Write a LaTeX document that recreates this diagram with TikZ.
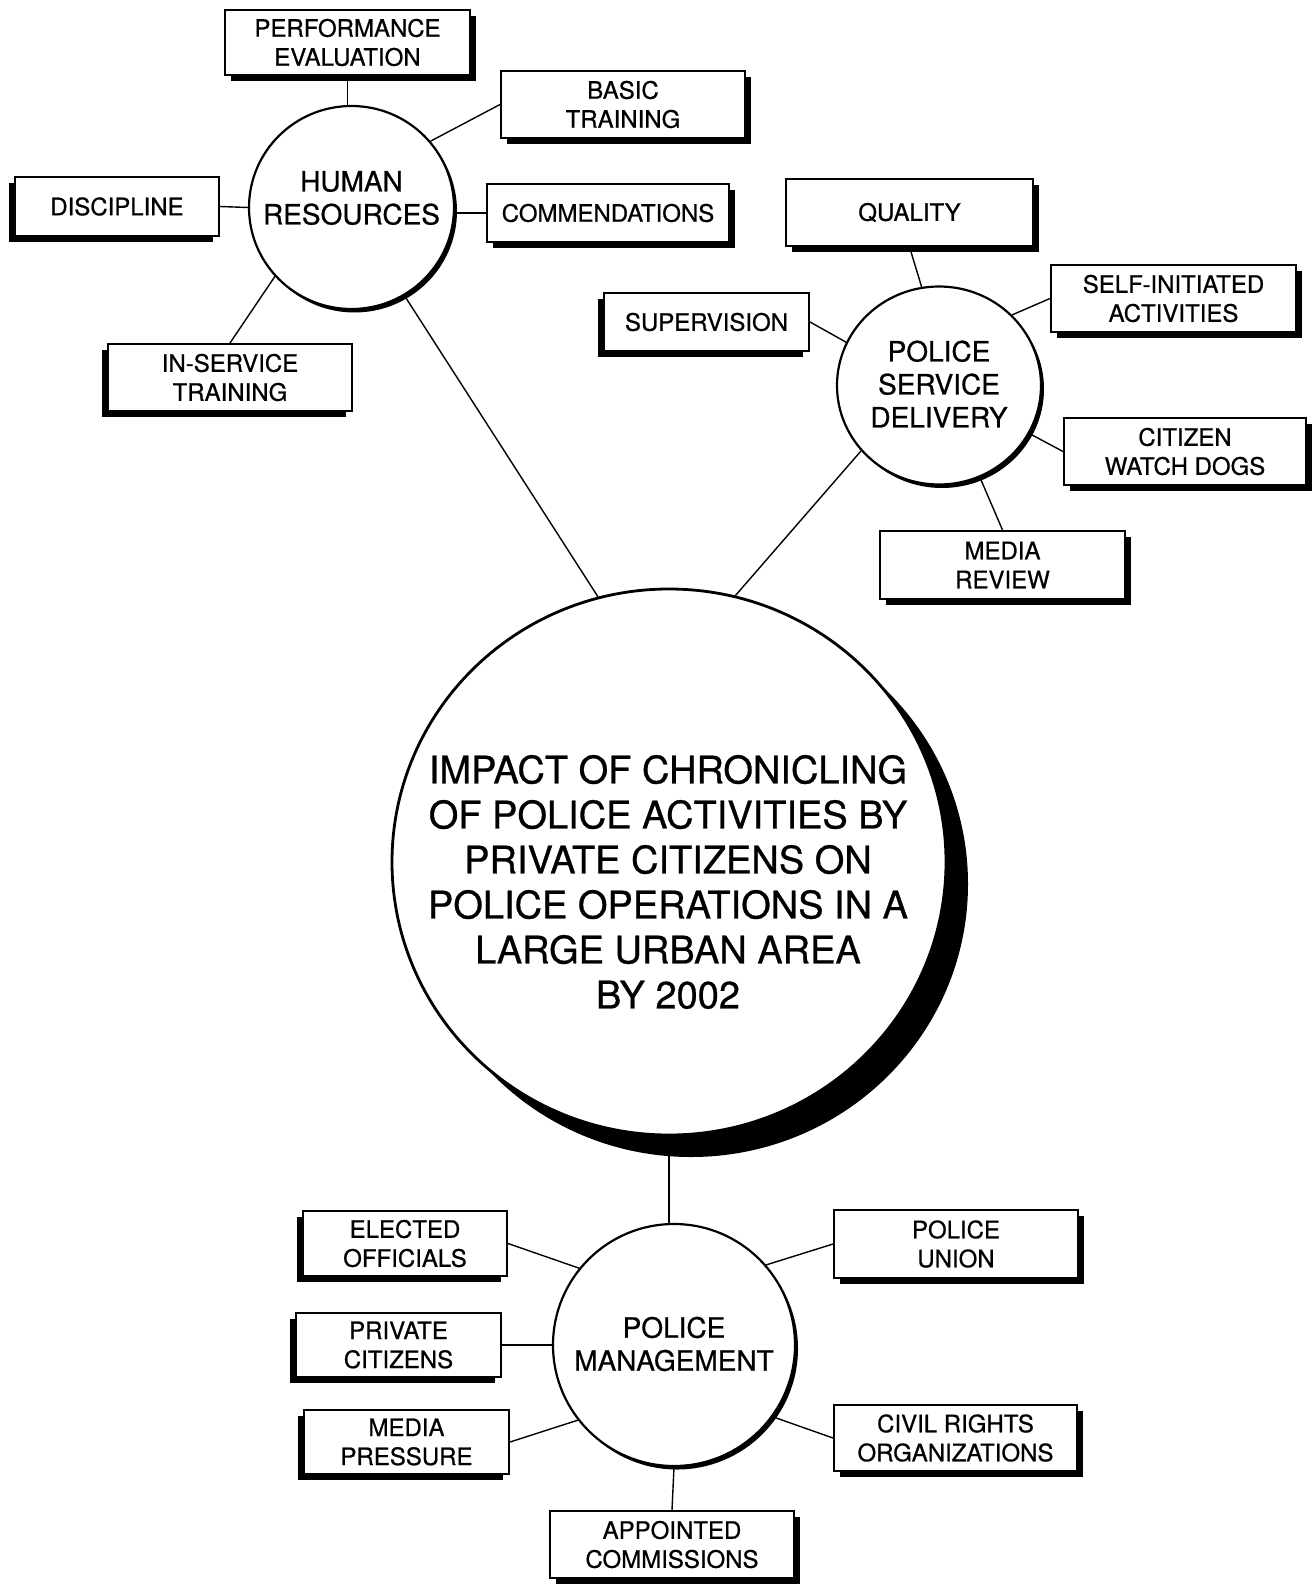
\documentclass[tikz,border=0pt]{standalone}
\usepackage{fontspec}
\setmainfont{TeX Gyre Heros}[FakeBold=0.7]
\usetikzlibrary{shapes.geometric,shadows}
\newcommand\boxfnt{\fontsize{24}{29}\selectfont}
\newcommand\circfnt{\fontsize{28}{33}\selectfont}
\newcommand\mainfnt{\fontsize{38}{45}\selectfont}
\begin{document}
\begin{tikzpicture}[x=1pt,y=-1pt,
  box/.style={draw, line width=2pt, fill=white, inner sep=0pt, align=center, font=\boxfnt},
  shR/.style={drop shadow={shadow xshift=6pt, shadow yshift=-6pt, opacity=1, fill=black}},
  shL/.style={drop shadow={shadow xshift=-6pt, shadow yshift=-6pt, opacity=1, fill=black}},
  circ/.style={draw, ellipse, line width=2.2pt, fill=white, inner sep=0pt,
    drop shadow={shadow xshift=3pt, shadow yshift=-3.5pt, opacity=1, fill=black}},
  ctext/.style={align=center, font=\circfnt, inner sep=0pt},
  link/.style={line width=1.4pt}]
\fill[white] (0,0) rectangle (1315,1584);

% circles
\node[circ, minimum width=205pt, minimum height=203pt] (hr) at (351.5,207.5) {};
\node[ctext] (hrt) at (351.5,198) {HUMAN\\RESOURCES};
\node[circ, minimum width=204pt, minimum height=198pt] (psd) at (939,385.5) {};
\node[ctext] (psdt) at (939,384) {POLICE\\SERVICE\\DELIVERY};
\node[circ, minimum width=242pt, minimum height=242pt] (pm) at (674,1345) {};
\node[ctext] (pmt) at (674,1344) {POLICE\\MANAGEMENT};
\node[draw, ellipse, line width=2.8pt, fill=white, inner sep=0pt,
  minimum width=554pt, minimum height=546pt,
  drop shadow={shadow xshift=22pt, shadow yshift=-22pt, opacity=1, fill=black}] (main) at (669,862) {};
\node[align=center, font=\mainfnt, inner sep=0pt] (maint) at (668,882)
  {IMPACT OF CHRONICLING\\OF POLICE ACTIVITIES BY\\PRIVATE CITIZENS ON\\POLICE OPERATIONS IN A\\LARGE URBAN AREA\\BY 2002};

% boxes
\node[box,shR,minimum width=245pt,minimum height=65pt] (pe) at (347.5,42.5) {PERFORMANCE\\EVALUATION};
\node[box,shR,minimum width=244pt,minimum height=67pt] (bt) at (623,104.5) {BASIC\\TRAINING};
\node[box,shL,minimum width=204pt,minimum height=59pt] (dis) at (117,206.5) {DISCIPLINE};
\node[box,shR,minimum width=242pt,minimum height=58pt] (com) at (608,213) {COMMENDATIONS};
\node[box,shL,minimum width=244pt,minimum height=67pt] (ist) at (230,377.5) {IN-SERVICE\\TRAINING};
\node[box,shR,minimum width=247pt,minimum height=67pt] (qua) at (909.5,212.5) {QUALITY};
\node[box,shL,minimum width=205pt,minimum height=58pt] (sup) at (706.5,322) {SUPERVISION};
\node[box,shR,minimum width=245pt,minimum height=67pt] (sia) at (1173.5,298.5) {SELF-INITIATED\\ACTIVITIES};
\node[box,shR,minimum width=242pt,minimum height=67pt] (cwd) at (1185,451.5) {CITIZEN\\WATCH DOGS};
\node[box,shR,minimum width=245pt,minimum height=68pt] (mr) at (1002.5,565) {MEDIA\\REVIEW};
\node[box,shL,minimum width=204pt,minimum height=65pt] (eo) at (405,1243.5) {ELECTED\\OFFICIALS};
\node[box,shR,minimum width=244pt,minimum height=68pt] (pu) at (956,1244) {POLICE\\UNION};
\node[box,shL,minimum width=205pt,minimum height=64pt] (pc) at (398.5,1345) {PRIVATE\\CITIZENS};
\node[box,shL,minimum width=205pt,minimum height=64pt] (mp) at (406.5,1442) {MEDIA\\PRESSURE};
\node[box,shR,minimum width=243pt,minimum height=66pt] (cro) at (955.5,1438) {CIVIL RIGHTS\\ORGANIZATIONS};
\node[box,shR,minimum width=244pt,minimum height=67pt] (ac) at (672,1544.5) {APPOINTED\\COMMISSIONS};

% connectors
\draw[link] (pe.south) -- (pe.south |- hr.north);
\draw[link] (hr.40) -- (bt.west);
\draw[link] (dis.east) -- (hr.west);
\draw[link] (hr.east |- com.west) -- (com.west);
\draw[link] (hr.222) -- (ist.north);
\draw[link] (hr.-59) -- (main.105);
\draw[link] (psd.220) -- (main.76);
\draw[link] (qua.south) -- (psd.100);
\draw[link] (sup.east) -- (psd.155);
\draw[link] (psd.44) -- (sia.west);
\draw[link] (psd.-28) -- (cwd.west);
\draw[link] (psd.-66) -- (mr.north);
\draw[link] (main.south) -- (main.south |- pm.north);
\draw[link] (eo.east) -- (pm.141);
\draw[link] (pm.41) -- (pu.west);
\draw[link] (pc.east) -- (pm.west);
\draw[link] (mp.east) -- (pm.218);
\draw[link] (pm.-36) -- (cro.west);
\draw[link] (pm.south) -- (ac.north);
\end{tikzpicture}
\end{document}
